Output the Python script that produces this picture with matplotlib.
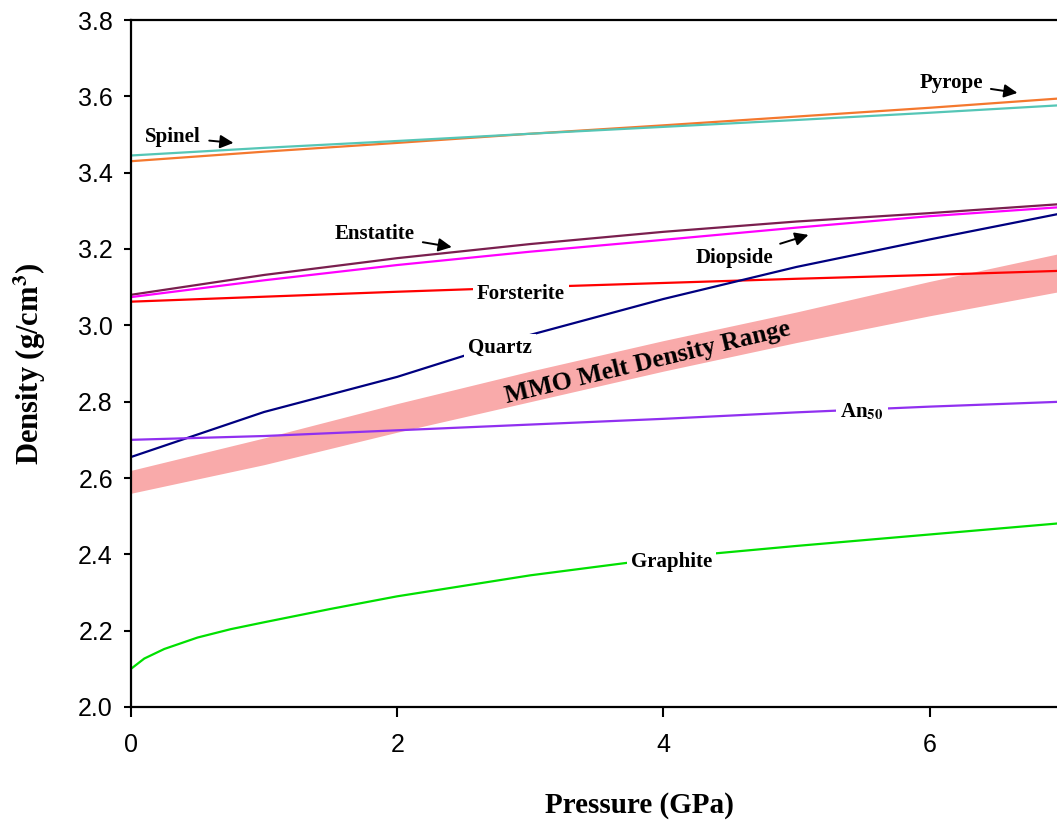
import matplotlib
matplotlib.use("Agg")
import matplotlib.pyplot as plt

plt.rcParams['mathtext.fontset'] = 'stix'

# pressure grid (GPa) and densities (g/cm3)
pressure = [0, 1, 2, 3, 4, 5, 6, 7]
spinel = [3.445, 3.465, 3.483, 3.502, 3.520, 3.538, 3.557, 3.577]
pyrope = [3.430, 3.455, 3.478, 3.502, 3.524, 3.547, 3.570, 3.595]
enstatite = [3.080, 3.132, 3.176, 3.213, 3.245, 3.272, 3.294, 3.318]
diopside = [3.074, 3.118, 3.158, 3.193, 3.224, 3.256, 3.286, 3.310]
forsterite = [3.062, 3.075, 3.088, 3.100, 3.111, 3.122, 3.132, 3.143]
quartz = [2.655, 2.773, 2.865, 2.975, 3.069, 3.153, 3.225, 3.294]
an50 = [2.700, 2.710, 2.725, 2.740, 2.755, 2.772, 2.787, 2.800]
melt_low = [2.560, 2.635, 2.720, 2.800, 2.880, 2.955, 3.025, 3.090]
melt_high = [2.620, 2.705, 2.795, 2.880, 2.960, 3.035, 3.115, 3.190]

graphite_p = [0, 0.1, 0.25, 0.5, 0.75, 1, 1.5, 2, 3, 4, 5, 6, 7]
graphite = [2.100, 2.127, 2.152, 2.182, 2.204, 2.222, 2.257, 2.290, 2.345, 2.390, 2.422, 2.452, 2.482]

serif = 'Liberation Serif'
sans = 'Liberation Sans'

fig = plt.figure(figsize=(10.57, 8.27), dpi=100)
ax = fig.add_axes([131/1057, 120/827, 931.7/1057, 687/827])

ax.fill_between(pressure, melt_low, melt_high, color='#F9AAAA', lw=0, zorder=1)

lw = 1.6
ax.plot(pressure, pyrope, color='#F4782E', lw=lw, zorder=2)
ax.plot(pressure, spinel, color='#55C6B6', lw=lw, zorder=2)
ax.plot(pressure, enstatite, color='#7A1F4F', lw=lw, zorder=2)
ax.plot(pressure, diopside, color='#FF00FF', lw=lw, zorder=2)
ax.plot(pressure, forsterite, color='#FF0000', lw=lw, zorder=2)
ax.plot(pressure, quartz, color='#000080', lw=lw, zorder=2)
ax.plot(pressure, an50, color='#9030F0', lw=lw, zorder=2)
ax.plot(graphite_p, graphite, color='#00E000', lw=lw, zorder=2)

lab = dict(fontsize=15, fontweight='bold', family=serif, ha='center', va='center', zorder=5)
gap = dict(facecolor='white', edgecolor='none', pad=3)
ax.text(2.93, 3.083, 'Forsterite', bbox=gap, **lab)
ax.text(2.77, 2.941, 'Quartz', bbox=gap, **lab)
ax.text(5.49, 2.773, r'An$_{\mathbf{50}}$', bbox=gap, **lab)
ax.text(4.06, 2.380, 'Graphite', bbox=gap, **lab)

arrow = dict(arrowstyle='-|>', color='black', lw=1.4, mutation_scale=20, shrinkA=4, shrinkB=0)
ax.annotate('Spinel', xy=(0.77, 3.478), xytext=(0.316, 3.493), arrowprops=arrow, **lab)
ax.annotate('Pyrope', xy=(6.66, 3.609), xytext=(6.16, 3.635), arrowprops=arrow, **lab)
ax.annotate('Enstatite', xy=(2.41, 3.205), xytext=(1.83, 3.239), arrowprops=arrow, **lab)
ax.annotate('Diopside', xy=(5.09, 3.237), xytext=(4.53, 3.176), arrowprops=arrow, **lab)

ax.text(3.88, 2.902, 'MMO Melt Density Range', fontsize=18.5, fontweight='bold',
        family=serif, rotation=13.5, ha='center', va='center', zorder=5)

ax.set_xlim(0, 7)
ax.set_ylim(2.0, 3.8)
ax.set_xticks([0, 2, 4, 6])
ax.set_yticks([2.0, 2.2, 2.4, 2.6, 2.8, 3.0, 3.2, 3.4, 3.6, 3.8])
ax.set_yticklabels(['2.0', '2.2', '2.4', '2.6', '2.8', '3.0', '3.2', '3.4', '3.6', '3.8'])
ax.tick_params(axis='both', direction='out', width=1.5, labelsize=18)
ax.tick_params(axis='x', length=7, pad=12)
ax.tick_params(axis='y', length=5, pad=8)
for t in ax.get_xticklabels() + ax.get_yticklabels():
    t.set_family(sans)
for s in ax.spines.values():
    s.set_linewidth(1.6)

ax.set_xlabel('Pressure (GPa)', fontsize=21, fontweight='bold', family=serif)
ax.set_ylabel(r'Density (g/cm$^{\mathbf{3}}$)', fontsize=22, fontweight='bold', family=serif)
ax.xaxis.set_label_coords(0.546, -0.124)
ax.yaxis.set_label_coords(-0.089, 0.5)

fig.savefig('out.png', dpi=100)
